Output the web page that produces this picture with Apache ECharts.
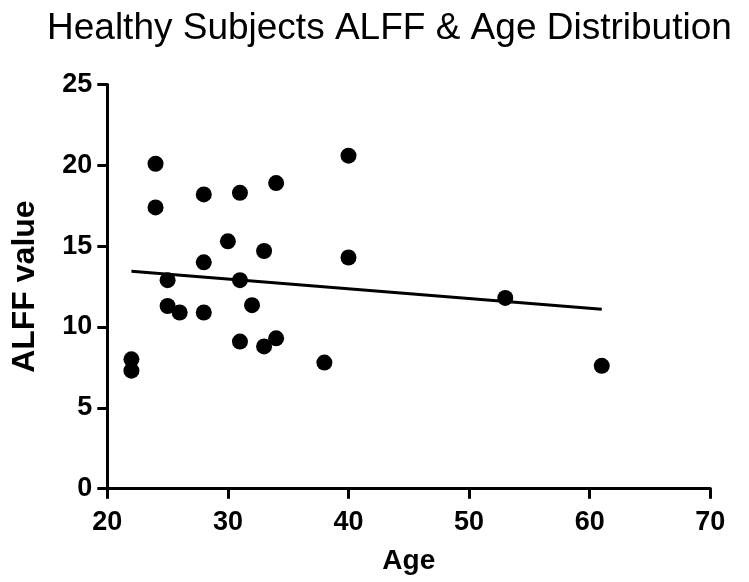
<!DOCTYPE html>
<html>
<head>
<meta charset="utf-8">
<script src="https://cdn.jsdelivr.net/npm/echarts@6/dist/echarts.min.js"></script>
<style>
html,body{margin:0;padding:0;background:#fff;}
#chart{width:749px;height:582px;}
</style>
</head>
<body>
<div id="chart"></div>
<script>
const titleText = "Healthy Subjects ALFF & Age Distribution";
const xName = "Age";
const yName = "ALFF value";
const ages = [22, 22, 24, 24, 25, 25, 26, 28, 28, 28, 30, 31, 31, 31, 32, 33, 33, 34, 34, 38, 40, 40, 53, 61];
const alff = [8.0, 7.3, 20.1, 17.4, 12.9, 11.3, 10.9, 18.2, 14.0, 10.9, 15.3, 18.3, 12.9, 9.1, 11.35, 14.7, 8.8, 18.9, 9.3, 7.8, 20.6, 14.3, 11.8, 7.6];
const fitX = [22, 61];
const fitY = [13.45, 11.1];

const points = ages.map((a, i) => [a, alff[i]]);
const fitLine = fitX.map((a, i) => [a, fitY[i]]);

const chart = echarts.init(document.getElementById('chart'), null, {renderer: 'canvas'});
const font = "Liberation Sans, Arial, Helvetica, sans-serif";
chart.setOption({
  animation: false,
  backgroundColor: '#ffffff',
  title: {
    text: titleText,
    left: 42,
    top: 5,
    textStyle: {fontFamily: font, fontSize: 37, fontWeight: 'normal', color: '#000'}
  },
  grid: {left: 107.3, right: 38.7, top: 84.5, bottom: 93.3, containLabel: false},
  xAxis: {
    type: 'value',
    min: 20, max: 70, interval: 10,
    name: xName,
    nameLocation: 'middle',
    nameGap: 59,
    nameTextStyle: {fontFamily: font, fontSize: 28, fontWeight: 'bold', color: '#000'},
    axisLine: {show: true, onZero: false, lineStyle: {color: '#000', width: 3}},
    axisTick: {show: true, inside: false, length: 10, lineStyle: {color: '#000', width: 3}},
    axisLabel: {margin: 20, fontFamily: font, fontSize: 27, fontWeight: 'bold', color: '#000'},
    splitLine: {show: false}
  },
  yAxis: {
    type: 'value',
    min: 0, max: 25, interval: 5,
    name: yName,
    nameLocation: 'middle',
    nameGap: 66,
    nameRotate: 90,
    nameTextStyle: {fontFamily: font, fontSize: 32, fontWeight: 'bold', color: '#000'},
    axisLine: {show: true, onZero: false, lineStyle: {color: '#000', width: 3}},
    axisTick: {show: true, inside: false, length: 10, lineStyle: {color: '#000', width: 3}},
    axisLabel: {margin: 15, fontFamily: font, fontSize: 27, fontWeight: 'bold', color: '#000'},
    splitLine: {show: false}
  },
  series: [
    {
      type: 'scatter',
      data: points,
      symbol: 'circle',
      symbolSize: 16,
      itemStyle: {color: '#000', opacity: 1},
      z: 3
    },
    {
      type: 'line',
      data: fitLine,
      showSymbol: false,
      symbol: 'none',
      lineStyle: {color: '#000', width: 3},
      z: 4
    }
  ]
});
</script>
</body>
</html>
